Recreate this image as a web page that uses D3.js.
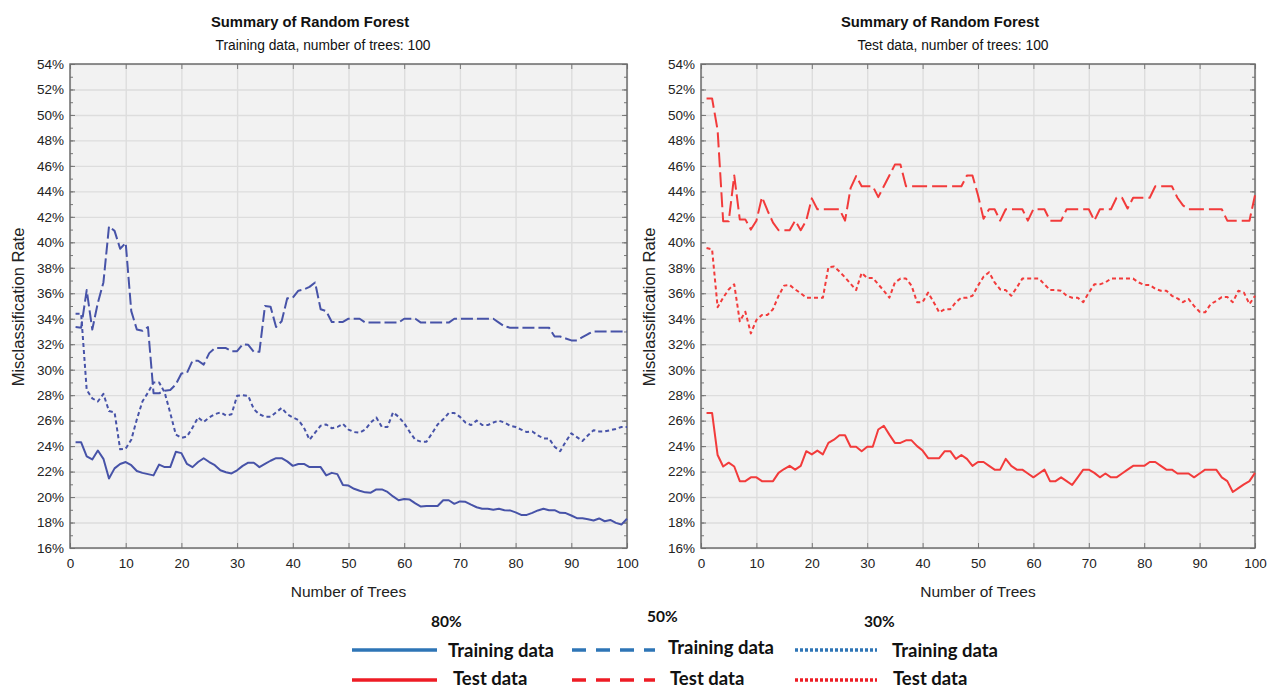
<!DOCTYPE html>
<html>
<head>
<meta charset="utf-8">
<script src="https://cdnjs.cloudflare.com/ajax/libs/d3/7.8.5/d3.min.js"></script>
<style>
  body { margin: 0; background: #fff; }
  svg { display: block; }
</style>
</head>
<body>
<div id="chart"></div>
<script>
// number of trees, 1..100
const trees = d3.range(1, 101);

// misclassification rate (%)
const train80 = [24.3,24.3,23.2,22.95,23.65,23.0,21.45,22.25,22.6,22.75,
  22.5,22.05,21.9,21.8,21.7,22.55,22.35,22.35,23.55,23.45,
  22.6,22.35,22.75,23.05,22.75,22.5,22.1,21.95,21.85,22.1,
  22.45,22.7,22.7,22.35,22.6,22.85,23.05,23.05,22.8,22.45,
  22.6,22.6,22.35,22.35,22.35,21.7,21.9,21.8,20.95,20.9,
  20.65,20.5,20.37,20.34,20.6,20.6,20.4,20.05,19.75,19.84,
  19.8,19.5,19.25,19.3,19.3,19.3,19.75,19.75,19.47,19.66,
  19.63,19.4,19.2,19.08,19.08,19.0,19.08,18.97,18.95,18.8,
  18.6,18.6,18.76,18.95,19.08,18.97,18.97,18.76,18.74,18.55,
  18.34,18.34,18.26,18.16,18.32,18.1,18.2,17.97,17.84,18.3];

const train50 = [33.35,33.3,36.25,33.15,35.25,36.85,41.25,40.9,39.5,39.95,
  34.6,33.15,33.05,33.35,28.15,28.15,28.35,28.4,28.85,29.7,
  29.75,30.7,30.7,30.4,31.3,31.7,31.7,31.7,31.45,31.45,
  32.0,31.95,31.4,31.4,35.0,34.95,33.35,33.8,35.6,35.65,
  36.2,36.3,36.5,36.85,34.75,34.6,33.75,33.75,33.75,34.0,
  34.0,34.0,33.7,33.7,33.7,33.7,33.7,33.7,33.7,34.0,
  34.0,34.0,33.7,33.7,33.7,33.7,33.7,33.7,34.0,34.0,
  34.0,34.0,34.0,34.0,34.0,34.0,33.7,33.4,33.3,33.3,
  33.3,33.3,33.3,33.3,33.3,33.3,32.6,32.6,32.45,32.3,
  32.3,32.55,32.8,33.0,33.0,33.0,33.0,33.0,33.0,33.0];

const train30 = [34.4,34.4,28.4,27.75,27.5,28.1,26.75,26.65,23.75,23.8,
  24.5,26.1,27.5,28.2,29.0,29.0,28.2,26.6,24.9,24.65,
  24.75,25.45,26.25,25.9,26.25,26.5,26.65,26.4,26.5,27.95,
  28.0,27.95,26.9,26.5,26.3,26.3,26.65,27.0,26.5,26.25,
  26.05,25.45,24.5,25.05,25.6,25.7,25.4,25.5,25.75,25.3,
  25.1,25.05,25.3,25.85,26.25,25.5,25.5,26.65,26.3,25.8,
  25.1,24.5,24.35,24.35,25.0,25.7,26.1,26.6,26.6,26.3,
  25.85,25.65,26.0,25.65,25.65,25.85,26.0,25.85,25.6,25.5,
  25.3,25.1,25.15,24.85,24.6,24.6,23.95,23.6,24.35,25.0,
  24.7,24.4,24.85,25.25,25.15,25.15,25.25,25.35,25.5,25.5];

const test80 = [26.6,26.6,23.3,22.4,22.7,22.4,21.25,21.25,21.55,21.55,
  21.25,21.25,21.25,21.9,22.2,22.45,22.15,22.45,23.6,23.35,
  23.65,23.35,24.25,24.5,24.85,24.85,23.95,23.95,23.6,23.95,
  23.95,25.3,25.6,24.9,24.25,24.25,24.45,24.45,24.0,23.65,
  23.05,23.05,23.05,23.6,23.6,23.0,23.3,23.0,22.45,22.75,
  22.75,22.45,22.15,22.15,23.0,22.45,22.15,22.15,21.85,21.55,
  21.85,22.15,21.25,21.25,21.55,21.25,20.95,21.55,22.15,22.15,
  21.9,21.55,21.85,21.55,21.55,21.85,22.15,22.45,22.45,22.45,
  22.75,22.75,22.45,22.15,22.15,21.85,21.85,21.85,21.55,21.85,
  22.15,22.15,22.15,21.55,21.25,20.4,20.7,21.0,21.25,21.9];

const test50 = [51.3,51.3,48.8,41.65,41.65,45.25,41.8,41.8,41.0,41.7,
  43.55,42.5,41.55,40.95,40.95,40.95,41.7,40.95,41.7,43.45,
  42.6,42.6,42.6,42.6,42.6,41.7,44.25,45.2,44.4,44.4,
  44.4,43.55,44.4,45.25,46.1,46.1,44.4,44.4,44.4,44.4,
  44.4,44.4,44.4,44.4,44.4,44.4,44.4,45.25,45.25,43.7,
  41.85,42.6,42.6,41.7,42.6,42.6,42.6,42.6,41.7,42.6,
  42.6,42.6,41.7,41.7,41.7,42.6,42.6,42.6,42.6,42.6,
  41.7,42.6,42.6,42.6,43.5,43.5,42.65,43.5,43.5,43.5,
  43.5,44.4,44.4,44.4,44.4,43.5,42.9,42.6,42.6,42.6,
  42.6,42.6,42.6,42.6,41.7,41.7,41.7,41.7,41.7,43.7];

const test30 = [39.55,39.45,34.9,35.65,36.3,36.7,33.8,34.55,32.85,33.9,
  34.3,34.3,34.75,35.8,36.6,36.65,36.3,36.0,35.65,35.65,
  35.65,35.65,38.05,38.1,37.7,37.25,36.75,36.25,37.6,37.2,
  37.2,36.7,36.2,35.65,36.85,37.15,37.15,36.6,35.3,35.3,
  36.05,35.3,34.5,34.75,34.75,35.3,35.65,35.65,35.8,36.6,
  37.3,37.65,36.85,36.3,36.25,35.8,36.45,37.15,37.15,37.15,
  37.15,36.7,36.25,36.25,36.2,35.8,35.65,35.65,35.3,36.05,
  36.7,36.7,36.85,37.15,37.15,37.15,37.15,37.15,36.85,36.65,
  36.65,36.35,36.2,36.2,35.8,35.6,35.3,35.55,35.0,34.55,
  34.5,35.15,35.4,35.7,35.7,35.3,36.2,36.05,35.15,35.8];

const yTicks = d3.range(16, 55, 2);
const xTicks = d3.range(0, 101, 10);

const legendGroups = ['80%', '50%', '30%'];
const legendRows = ['Training data', 'Test data'];

const W = 1273, H = 690;
const FONT = '"Liberation Sans", Arial, sans-serif';
const svg = d3.select('#chart').append('svg')
  .attr('width', W)
  .attr('height', H)
  .style('font-family', FONT);

svg.append('rect').attr('width', W).attr('height', H).attr('fill', '#fff');

const BLUE = '#4753a8';
const RED = '#f23b3b';

function drawPanel(cfg) {
  const x = d3.scaleLinear().domain([0, 100]).range([cfg.left, cfg.right]);
  const y = d3.scaleLinear().domain([16, 54]).range([548, 64]);
  const w = cfg.right - cfg.left;
  const g = svg.append('g');

  // plot background
  g.append('rect')
    .attr('x', cfg.left).attr('y', 64)
    .attr('width', w).attr('height', 548 - 64)
    .attr('fill', '#f2f2f2');

  // grid
  g.append('g')
    .attr('transform', `translate(${cfg.left},0)`)
    .call(d3.axisLeft(y).tickValues(yTicks).tickSize(-w).tickFormat(''))
    .call(s => s.select('.domain').remove())
    .call(s => s.selectAll('line').attr('stroke', '#dddddd').attr('stroke-width', 1.4));
  g.append('g')
    .attr('transform', 'translate(0,548)')
    .call(d3.axisBottom(x).tickValues(xTicks).tickSize(-(548 - 64)).tickFormat(''))
    .call(s => s.select('.domain').remove())
    .call(s => s.selectAll('line').attr('stroke', '#dddddd').attr('stroke-width', 1.4));

  // inner ticks on all four edges
  const minor = d3.range(16, 55, 1);
  const edge = (axis, tr) => g.append('g').attr('transform', tr).call(axis)
    .call(s => s.select('.domain').remove())
    .call(s => s.selectAll('line').attr('stroke', '#777'));
  edge(d3.axisLeft(y).tickValues(minor).tickSize(-3).tickFormat(''), `translate(${cfg.left},0)`);
  edge(d3.axisRight(y).tickValues(minor).tickSize(-3).tickFormat(''), `translate(${cfg.right},0)`);
  edge(d3.axisLeft(y).tickValues(yTicks).tickSize(-5).tickFormat(''), `translate(${cfg.left},0)`);
  edge(d3.axisRight(y).tickValues(yTicks).tickSize(-5).tickFormat(''), `translate(${cfg.right},0)`);
  edge(d3.axisBottom(x).tickValues(xTicks).tickSize(-5).tickFormat(''), 'translate(0,548)');
  edge(d3.axisTop(x).tickValues(xTicks).tickSize(-5).tickFormat(''), 'translate(0,64)');

  // frame
  g.append('rect')
    .attr('x', cfg.left).attr('y', 64)
    .attr('width', w).attr('height', 548 - 64)
    .attr('fill', 'none').attr('stroke', '#6e6e6e').attr('stroke-width', 1.5);

  // tick labels
  g.append('g')
    .attr('transform', `translate(${cfg.left},0)`)
    .call(d3.axisLeft(y).tickValues(yTicks).tickSize(0).tickPadding(6).tickFormat(d => d + '%'))
    .call(s => s.select('.domain').remove())
    .call(s => s.selectAll('text').attr('font-size', 13.5).attr('fill', '#222')
      .style('font-family', FONT));
  g.append('g')
    .attr('transform', 'translate(0,548)')
    .call(d3.axisBottom(x).tickValues(xTicks).tickSize(0).tickPadding(10).tickFormat(d3.format('d')))
    .call(s => s.select('.domain').remove())
    .call(s => s.selectAll('text').attr('font-size', 13.5).attr('fill', '#222')
      .style('font-family', FONT));

  // series
  const line = d3.line().x((d, i) => x(trees[i])).y(d => y(d));
  cfg.series.forEach(s => {
    g.append('path')
      .datum(s.values)
      .attr('fill', 'none')
      .attr('stroke', cfg.color)
      .attr('stroke-width', 2)
      .attr('stroke-linejoin', 'round')
      .attr('stroke-dasharray', s.dash)
      .attr('d', line);
  });

  // titles
  g.append('text').attr('x', cfg.titleX).attr('y', 27)
    .attr('text-anchor', 'middle').attr('font-size', 14.8).attr('font-weight', 'bold')
    .attr('fill', '#111').text('Summary of Random Forest');
  g.append('text').attr('x', cfg.subX).attr('y', 50)
    .attr('text-anchor', 'middle').attr('font-size', 13.8).attr('fill', '#111')
    .text(cfg.subtitle);
  g.append('text').attr('x', (cfg.left + cfg.right) / 2).attr('y', 597)
    .attr('text-anchor', 'middle').attr('font-size', 15.5).attr('fill', '#222')
    .text('Number of Trees');
  g.append('text')
    .attr('transform', `translate(${cfg.left - 46},307) rotate(-90)`)
    .attr('text-anchor', 'middle').attr('font-size', 16.5).attr('fill', '#222')
    .text('Misclassification Rate');
}

drawPanel({
  left: 70, right: 627, color: BLUE,
  titleX: 310, subX: 323,
  subtitle: 'Training data, number of trees: 100',
  series: [
    { values: train80, dash: null },
    { values: train50, dash: '12,4' },
    { values: train30, dash: '4,3' }
  ]
});

drawPanel({
  left: 701, right: 1255, color: RED,
  titleX: 940, subX: 953,
  subtitle: 'Test data, number of trees: 100',
  series: [
    { values: test80, dash: null },
    { values: test50, dash: '15,5' },
    { values: test30, dash: '4,3' }
  ]
});

// legend below the charts
const legend = svg.append('g').style('font-family', 'Lato, "Open Sans", sans-serif')
  .attr('font-weight', 'bold').attr('fill', '#111');
const cols = [
  { x0: 352, x1: 437, tx: 448, txTest: 453, hx: 431, hy: 627, dash: null, ty: [657, 685] },
  { x0: 572, x1: 655, tx: 668, txTest: 670, hx: 647, hy: 622, dash: '14,10', ty: [654, 685] },
  { x0: 795, x1: 877, tx: 892, txTest: 893, hx: 864, hy: 627, dash: '3,2', ty: [657, 685] }
];
const rowY = [650, 680];
const rowColor = ['#2e75b6', '#ee1c25'];
cols.forEach((c, i) => {
  legend.append('text').attr('x', c.hx).attr('y', c.hy).attr('font-size', 15.5)
    .text(legendGroups[i]);
  legendRows.forEach((r, j) => {
    legend.append('line')
      .attr('x1', c.x0).attr('x2', c.x1).attr('y1', rowY[j]).attr('y2', rowY[j])
      .attr('stroke', rowColor[j]).attr('stroke-width', 3.5)
      .attr('stroke-dasharray', c.dash);
    legend.append('text')
      .attr('x', j === 0 ? c.tx : c.txTest).attr('y', c.ty[j])
      .attr('font-size', 18.5).text(r);
  });
});
</script>
</body>
</html>
